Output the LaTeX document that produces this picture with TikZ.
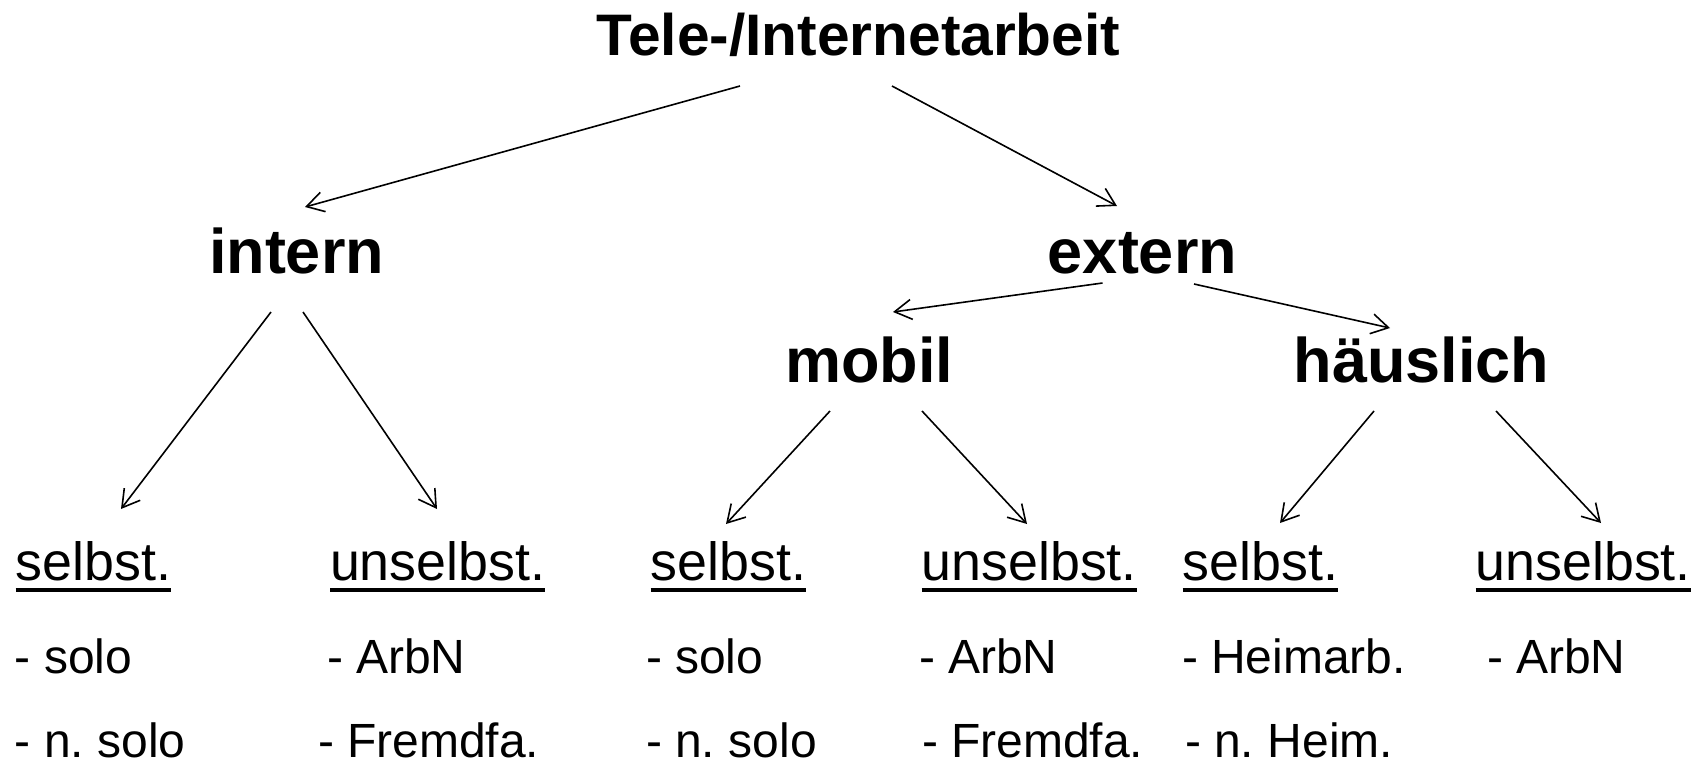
\documentclass[tikz,border=0pt]{standalone}
\usepackage{fontspec}
\setmainfont{Liberation Sans}
\usetikzlibrary{arrows.meta}
\frenchspacing
\begin{document}
\begin{tikzpicture}[x=1pt,y=-1pt,
  every node/.style={inner sep=0pt, outer sep=0pt},
  ttl/.style={font=\bfseries\fontsize{58.6}{64}\selectfont, anchor=base},
  lvl/.style={font=\bfseries\fontsize{63}{70}\selectfont, anchor=base},
  head/.style={font=\fontsize{53.8}{60}\selectfont, anchor=base west},
  item/.style={font=\fontsize{48}{54}\selectfont, anchor=base west},
  arr/.style={-{Straight Barb[length=17pt,width=20pt]}, line width=1.6pt},
  ul/.style={line width=4pt}]
\useasboundingbox (0,0) rectangle (1701,764);

% top levels
\node[ttl] (T) at (858.5,55) {Tele-/Internetarbeit};
\node[lvl] (I) at (296.5,273) {intern};
\node[lvl] (E) at (1142.5,273) {extern};
\node[lvl] (M) at (869,382) {mobil};
\node[lvl] (H) at (1421.5,382) {häuslich};

% headings
\node[head] (S1) at (15.5,580) {selbst.};
\node[head] (U1) at (330,580) {unselbst.};
\node[head] (S2) at (650.5,580) {selbst.};
\node[head] (U2) at (921.5,580) {unselbst.};
\node[head] (S3) at (1182.5,580) {selbst.};
\node[head] (U3) at (1475.5,580) {unselbst.};

\foreach \n in {S1,U1,S2,U2,S3,U3}
  \draw[ul] ([shift={(0,10)}]\n.base west) -- ([shift={(0,10)}]\n.base east);

% items
\node[item] (a1) at (15,673) {- solo};
\node[item] (a2) at (15,757) {- n. solo};
\node[item] (b1) at (327,673) {- ArbN};
\node[item] (b2) at (318,757) {- Fremdfa.};
\node[item] (c1) at (646,673) {- solo};
\node[item] (c2) at (646,757) {- n. solo};
\node[item] (d1) at (919,673) {- ArbN};
\node[item] (d2) at (922,757) {- Fremdfa.};
\node[item] (e1) at (1182,673) {- Heimarb.};
\node[item] (e2) at (1185,757) {- n. Heim.};
\node[item] (f1) at (1487,673) {- ArbN};

% connectors
\draw[arr] ([shift={(-118.5,31)}]T.base) -- ([shift={(8.5,-66)}]I.base);
\draw[arr] ([shift={(33.5,31)}]T.base) -- ([shift={(-25.5,-67)}]E.base);
\draw[arr] ([shift={(-25.5,39)}]I.base) -- ([shift={(105.5,-71)}]S1.base west);
\draw[arr] ([shift={(6.5,39)}]I.base) -- ([shift={(107,-71)}]U1.base west);
\draw[arr] ([shift={(-40,10)}]E.base) -- ([shift={(24,-70)}]M.base);
\draw[arr] ([shift={(51.5,11)}]E.base) -- ([shift={(-31.5,-54)}]H.base);
\draw[arr] ([shift={(-39,29)}]M.base) -- ([shift={(75.5,-56)}]S2.base west);
\draw[arr] ([shift={(53,29)}]M.base) -- ([shift={(105.5,-56)}]U2.base west);
\draw[arr] ([shift={(-47.5,29)}]H.base) -- ([shift={(97.5,-57)}]S3.base west);
\draw[arr] ([shift={(74.5,29)}]H.base) -- ([shift={(125.5,-57)}]U3.base west);
\end{tikzpicture}
\end{document}
